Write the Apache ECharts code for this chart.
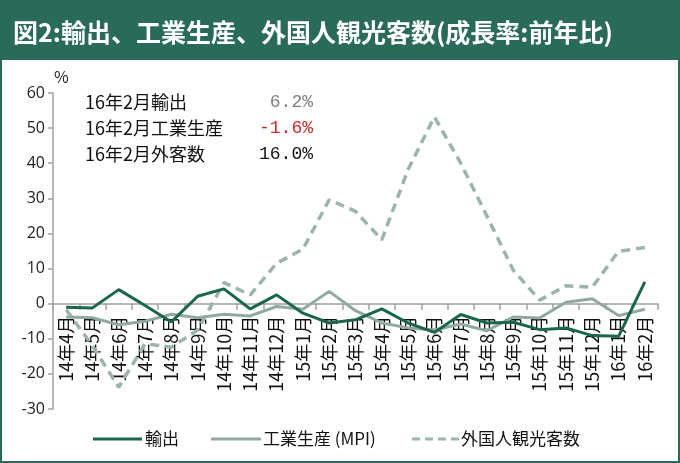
<!DOCTYPE html>
<html><head><meta charset="utf-8">
<script src="https://cdn.jsdelivr.net/npm/echarts@6/dist/echarts.min.js"></script>
<style>html,body{margin:0;padding:0;background:#fff}#c{width:680px;height:463px}</style>
</head><body><div id="c"></div>
<script>
const categories = ['14年4月','14年5月','14年6月','14年7月','14年8月','14年9月','14年10月','14年11月','14年12月','15年1月','15年2月','15年3月','15年4月','15年5月','15年6月','15年7月','15年8月','15年9月','15年10月','15年11月','15年12月','16年1月','16年2月'];
const exportsYoY = [-1.0,-1.2,4.0,-0.5,-5.2,2.1,4.2,-1.5,2.5,-2.7,-5.5,-4.6,-1.5,-5.5,-8.2,-3.1,-5.5,-5.3,-7.4,-6.9,-9.1,-9.3,6.2];
const industryYoY = [-3.8,-4.0,-6.0,-5.0,-3.0,-4.0,-3.0,-3.5,-0.8,-1.6,3.5,-2.0,-5.5,-6.9,-7.5,-5.8,-7.7,-3.8,-4.1,0.4,1.4,-3.4,-1.6];
const visitorsYoY = [-1.7,-12.0,-23.8,-11.4,-12.4,-7.5,6.0,2.5,11.5,15.5,29.6,26.3,18.2,38.2,53.2,40.0,24.9,9.5,1.0,5.1,4.7,14.9,16.0];
const seriesNames = ['輸出','工業生産 (MPI)','外国人観光客数'];
const yTicks = {min:-30, max:60, interval:10};
const noteLabels = ['16年2月輸出','16年2月工業生産','16年2月外客数'];
const noteValues = ['6.2%','-1.6%','16.0%'];
const titleText = '図2:輸出、工業生産、外国人観光客数(成長率:前年比)';

const GREEN = '#2a6a5a';
const C_EXP = '#1a6650', C_IND = '#8fab9f', C_VIS = '#9bb5aa';
const noteColors = ['#808080','#d0281e','#111'];
const jp = '"Noto Sans CJK JP", sans-serif';

const GRID = {left:53, right:22, top:93, bottom:54};
const gridH = 463 - GRID.top - GRID.bottom;
const zeroOffset = -gridH * (0 - yTicks.min) / (yTicks.max - yTicks.min);

const graphics = [
  {type:'rect', shape:{x:0,y:0,width:680,height:60}, style:{fill:GREEN}, silent:true},
  {type:'rect', shape:{x:1,y:1,width:678,height:461}, style:{fill:'none', stroke:GREEN, lineWidth:2}, silent:true},
  {type:'text', x:13, y:32, style:{text:titleText, fill:'#fff', font:'bold 25px '+jp, verticalAlign:'middle'}},
  {type:'text', x:54, y:77, style:{text:'%', fill:'#222', font:'16px '+jp, verticalAlign:'middle'}}
];
const rowsY = [102,128,154];
noteLabels.forEach((t,i)=>{
  graphics.push({type:'text', x:85, y:rowsY[i], style:{text:t, fill:'#111', font:'18px '+jp, verticalAlign:'middle', textAlign:'left'}});
  graphics.push({type:'text', x:313, y:rowsY[i], style:{text:noteValues[i], fill:noteColors[i], font:'18px "Liberation Mono", monospace', verticalAlign:'middle', textAlign:'right'}});
});
const legendKeys = [
  {x0:93, x1:142, color:C_EXP, dash:null, tx:145, name:seriesNames[0]},
  {x0:211, x1:261, color:C_IND, dash:null, tx:263, name:seriesNames[1]},
  {x0:412, x1:460, color:C_VIS, dash:[8,5], tx:461, name:seriesNames[2]}
];
legendKeys.forEach(k=>{
  graphics.push({type:'line', shape:{x1:k.x0,y1:439,x2:k.x1,y2:439}, style:{stroke:k.color, lineWidth:3, lineDash:k.dash||null}, silent:true});
  graphics.push({type:'text', x:k.tx, y:439, style:{text:k.name, fill:'#111', font:'17px '+jp, verticalAlign:'middle'}});
});

const chart = echarts.init(document.getElementById('c'), null, {renderer:'canvas'});
chart.setOption({
  animation:false,
  backgroundColor:'#fff',
  grid:{left:GRID.left, right:GRID.right, top:GRID.top, bottom:GRID.bottom, containLabel:false, outerBoundsMode:'none'},
  xAxis:{type:'category', data:categories, boundaryGap:true, position:'bottom', offset:zeroOffset,
    axisLine:{onZero:false, lineStyle:{color:'#a0a0a0', width:1.5}},
    axisTick:{show:true, length:6, inside:false, lineStyle:{color:'#a0a0a0', width:1.5}},
    axisLabel:{rotate:90, interval:0, margin:12, fontSize:18, color:'#111', fontFamily:jp},
    splitLine:{show:false}},
  yAxis:{type:'value', min:yTicks.min, max:yTicks.max, interval:yTicks.interval,
    axisLine:{show:true, lineStyle:{color:'#a0a0a0', width:1.5}},
    axisTick:{show:true, length:5, lineStyle:{color:'#a0a0a0', width:1.5}},
    axisLabel:{margin:8, fontSize:16, color:'#222', fontFamily:'"Open Sans", sans-serif'},
    splitLine:{show:false}},
  legend:{show:false},
  series:[
    {name:seriesNames[2], type:'line', data:visitorsYoY, symbol:'none', z:1,
      lineStyle:{color:C_VIS, width:3.5, type:[9,6]}, itemStyle:{color:C_VIS}},
    {name:seriesNames[1], type:'line', data:industryYoY, symbol:'none', z:2,
      lineStyle:{color:C_IND, width:3}, itemStyle:{color:C_IND}},
    {name:seriesNames[0], type:'line', data:exportsYoY, symbol:'none', z:3,
      lineStyle:{color:C_EXP, width:3}, itemStyle:{color:C_EXP}}
  ],
  graphic:graphics
});
</script></body></html>
